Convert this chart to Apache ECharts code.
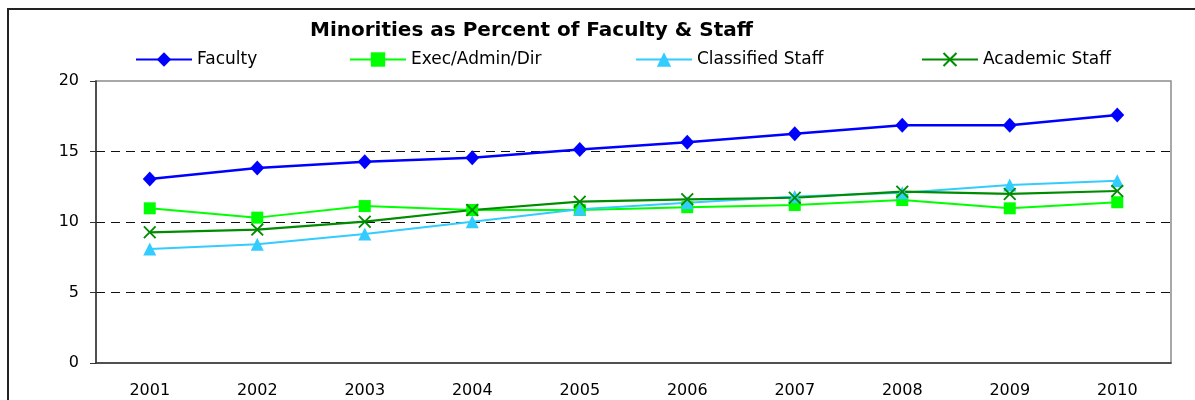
<!DOCTYPE html>
<html>
<head>
<meta charset="utf-8">
<script src="https://cdn.jsdelivr.net/npm/echarts@6/dist/echarts.min.js"></script>
<style>
  html, body { margin: 0; padding: 0; background: #fff; }
  #chart { width: 1195px; height: 400px; }
</style>
</head>
<body>
<div id="chart"></div>
<script>
  const years = ['2001', '2002', '2003', '2004', '2005', '2006', '2007', '2008', '2009', '2010']
  const faculty = [13.05, 13.83, 14.28, 14.56, 15.15, 15.65, 16.26, 16.86, 16.86, 17.59]
  const execAdmin = [10.97, 10.31, 11.13, 10.85, 10.85, 11.05, 11.2, 11.56, 10.97, 11.4]
  const classified = [8.08, 8.42, 9.15, 10.02, 10.9, 11.37, 11.8, 12.08, 12.62, 12.93]
  const academic = [9.27, 9.46, 10.02, 10.85, 11.44, 11.61, 11.72, 12.15, 11.99, 12.2]

  const font = 'DejaVu Sans'
  // X marker as a filled outline, path symbols are filled
  const xMark = 'path://M0,1L1,0L5,4L9,0L10,1L6,5L10,9L9,10L5,6L1,10L0,9L4,5Z'

  const legendAt = (name, left) => ({
    data: [name],
    left: left,
    top: 51,
    padding: 0,
    itemWidth: 56,
    itemHeight: 18,
    textStyle: { fontFamily: font, fontSize: 17, color: '#000' }
  })

  const chart = echarts.init(document.getElementById('chart'))
  chart.setOption({
    animation: false,
    backgroundColor: '#fff',
    title: {
      text: 'Minorities as Percent of Faculty & Staff',
      left: 310,
      top: 21,
      padding: 0,
      textStyle: { fontFamily: font, fontSize: 20, fontWeight: 'bold', color: '#000' }
    },
    legend: [
      legendAt('Faculty', 135),
      legendAt('Exec/Admin/Dir', 349),
      legendAt('Classified Staff', 635),
      legendAt('Academic Staff', 921)
    ],
    graphic: [{
      type: 'rect',
      shape: { x: 8, y: 9, width: 1300, height: 500 },
      style: { fill: null, stroke: '#222', lineWidth: 2 },
      silent: true
    }],
    grid: {
      left: 96,
      right: 24,
      top: 81,
      bottom: 37,
      show: true,
      borderColor: '#8c8c8c',
      borderWidth: 1.5
    },
    xAxis: {
      type: 'category',
      data: years,
      boundaryGap: true,
      axisLine: { lineStyle: { color: '#333', width: 1.5 } },
      axisTick: { length: 6, lineStyle: { color: '#333' } },
      axisLabel: { fontFamily: font, fontSize: 16, color: '#000', margin: 20 }
    },
    yAxis: {
      type: 'value',
      min: 0,
      max: 20,
      interval: 5,
      axisLine: { show: true, lineStyle: { color: '#333', width: 1.5 } },
      axisTick: { show: true, length: 6, lineStyle: { color: '#333' } },
      axisLabel: { fontFamily: font, fontSize: 16, color: '#000', margin: 17 },
      splitLine: {
        show: true,
        showMinLine: false,
        showMaxLine: false,
        lineStyle: { color: '#111', type: [9, 6], width: 1 }
      }
    },
    series: [
      {
        name: 'Faculty',
        type: 'line',
        data: faculty,
        color: '#0000ff',
        symbol: 'diamond',
        symbolSize: [14, 15],
        lineStyle: { width: 2.5 }
      },
      {
        name: 'Exec/Admin/Dir',
        type: 'line',
        data: execAdmin,
        color: '#00ff00',
        symbol: 'rect',
        symbolSize: 12,
        lineStyle: { width: 2 }
      },
      {
        name: 'Classified Staff',
        type: 'line',
        data: classified,
        color: '#33ccff',
        symbol: 'triangle',
        symbolSize: 13,
        lineStyle: { width: 2 }
      },
      {
        name: 'Academic Staff',
        type: 'line',
        data: academic,
        color: '#008c00',
        symbol: xMark,
        symbolSize: 13,
        lineStyle: { width: 2.2 }
      }
    ]
  })
</script>
</body>
</html>
